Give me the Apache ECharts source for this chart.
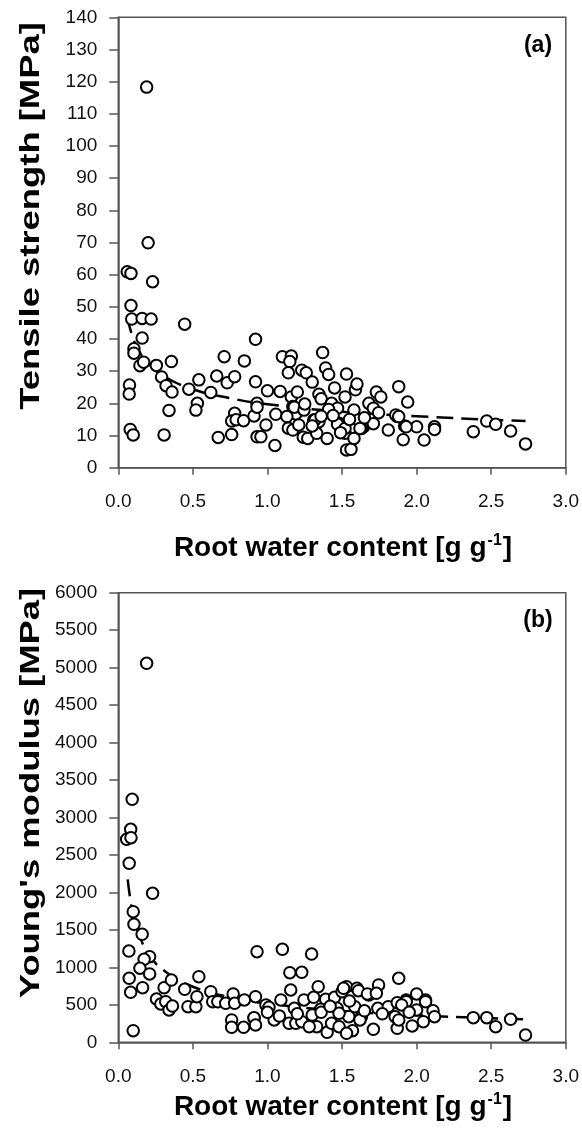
<!DOCTYPE html>
<html><head><meta charset="utf-8">
<script src="https://cdn.jsdelivr.net/npm/echarts@6/dist/echarts.min.js"></script>
<style>html,body{margin:0;padding:0;background:#fff}#c{width:582px;height:1129px}</style>
</head><body><div id="c"></div>
<script>
// Panel (a): tensile strength vs root water content
const waterA = [0.19,0.06,0.085,0.23,0.2,0.085,0.09,0.16,0.22,0.445,0.16,0.105,0.105,0.145,0.17,0.255,0.356,0.29,0.32,0.36,0.075,0.073,0.34,0.08,0.1,0.307,0.473,0.54,0.53,0.52,0.62,0.66,0.71,0.73,0.78,0.845,0.67,0.76,0.78,0.76,0.79,0.84,0.91,0.92,0.92,0.93,0.93,0.93,
1.10,1.16,1.15,1.37,1.23,1.26,1.14,1.39,1.41,1.53,1.30,1.0,1.085,1.16,1.056,1.17,1.19,1.13,0.99,1.14,1.17,1.21,1.05,1.24,1.27,1.31,1.345,1.33,1.40,1.345,1.36,1.45,1.43,1.47,1.52,1.48,1.52,1.53,1.56,0.956,1.18,1.245,1.32,1.41,1.47,1.52,1.58,1.61,1.645,1.68,1.71,1.745,1.71,1.81,1.87,1.92,1.91,2.0,2.05,1.49,1.59,1.60,1.73,1.76,1.88,1.94,1.86,1.88,1.93,2.12,2.12,2.38,2.47,2.53,2.63,2.73,1.63,1.58,1.62,1.30,1.25,1.36,1.44,1.55,1.65,1.2];
const tensile = [118.3,60.9,60.4,57.8,69.9,50.4,46.2,46.4,46.2,44.6,40.3,37.0,35.6,31.7,32.8,31.8,33.0,28.2,25.5,23.5,25.7,22.9,17.8,11.9,10.2,10.2,24.4,27.3,20.0,17.9,23.4,28.5,34.5,26.4,28.3,33.2,9.4,10.3,16.9,14.5,14.9,14.6,16.1,39.9,26.7,20.0,9.6,18.8,
34.5,34.7,33.0,35.8,30.3,29.5,29.5,31.0,29.0,29.1,26.6,23.9,23.7,22.0,16.6,19.0,16.7,15.9,13.3,12.3,11.7,13.3,6.9,9.5,9.1,14.8,14.3,10.7,9.1,22.8,21.4,24.8,20.0,18.5,22.0,13.8,10.7,5.5,5.7,9.6,18.8,17.9,14.9,18.1,13.5,12.2,17.9,14.8,12.7,20.0,18.5,17.1,13.7,11.7,15.9,13.0,8.7,12.7,8.6,10.9,24.2,26.0,23.5,22.0,25.2,20.4,16.4,15.9,12.7,12.7,11.9,11.2,14.5,13.5,11.4,7.4,12.2,9.1,12.2,13.0,19.8,16.0,16.2,15.0,15.5,23.5];
// dashed trend (a)
const trendAx = [0.06,0.1,0.15,0.2,0.3,0.5,0.75,1.0,1.5,2.0,2.5,2.73];
const trendAy = [47.0,40.1,35.4,32.4,28.6,24.4,21.6,19.75,17.4,16.0,14.9,14.5];

// Panel (b): Young's modulus vs root water content
const waterB = [0.19,0.093,0.083,0.056,0.085,0.073,0.23,0.1,0.105,0.16,0.071,0.21,0.173,0.145,0.21,0.073,0.083,0.163,0.1,0.256,0.285,0.318,0.34,0.363,0.307,0.356,0.445,0.467,0.52,0.54,0.527,0.62,0.633,0.667,0.72,0.77,0.78,0.845,0.76,0.76,0.84,0.91,0.92,0.93,1.1,1.296,1.15,1.23,1.88,0.99,1.01,1.09,1.156,1.18,1.245,1.31,1.34,1.39,1.45,1.50,1.53,1.6,1.61,1.68,1.745,1.356,1.467,1.585,1.74,1.81,1.93,2.0,2.06,0.91,0.92,1.045,1.145,1.19,1.23,1.33,1.40,1.28,1.43,1.48,1.57,1.71,1.545,1.63,1.856,1.97,2.045,1.87,1.51,1.67,1.73,1.93,2.06,1.87,1.9,2.0,2.11,2.12,1.88,2.38,2.47,2.53,2.63,2.73,1.62,1.48,1.30,1.53,1.36,1.42,1.2,1.55,1.65,1.77,1.95,1.0,1.08];
const modulus = [5058,3243,2843,2709,2730,2389,1988,1743,1575,1441,1218,1142,1108,988,912,854,667,729,155,578,511,542,431,484,729,831,707,475,475,876,609,675,542,542,520,645,520,565,298,200,200,320,609,1209,1241,1178,929,934,854,498,467,565,698,454,565,600,742,574,600,675,742,721,689,631,765,440,454,475,454,475,565,645,565,329,231,298,253,253,275,208,133,208,253,208,155,173,342,342,342,218,275,187,721,645,654,542,542,529,498,431,422,342,298,329,329,208,307,97,298,387,364,120,400,480,380,550,420,380,400,400,350];
const trendBx = [0.063,0.08,0.1,0.15,0.2,0.3,0.5,0.75,1.0,1.5,2.0,2.5,2.73];
const trendBy = [2173,1917,1708,1384,1192,966,741,600,517,419,361,321,307];

const FONT = 'Liberation Sans, Arial, sans-serif';
const pairs = (xs, ys) => xs.map((x, i) => [x, ys[i]]);

const axisCommonX = {
  type: 'value', min: 0, max: 3, interval: 0.5,
  axisLine: {show: true, lineStyle: {color: '#555', width: 1.5}},
  axisTick: {show: true, inside: false, length: 7, lineStyle: {color: '#555', width: 1.5}},
  splitLine: {show: false},
  axisLabel: {color: '#111', fontSize: 19, fontFamily: FONT, margin: 25,
    formatter: v => v.toFixed(1)}
};
const axisCommonY = (max, interval) => ({
  type: 'value', min: 0, max: max, interval: interval,
  axisLine: {show: true, lineStyle: {color: '#555', width: 1.5}},
  axisTick: {show: true, inside: false, length: 9, lineStyle: {color: '#555', width: 1.5}},
  splitLine: {show: false},
  axisLabel: {color: '#111', fontSize: 19, fontFamily: FONT, margin: 21,
    formatter: v => String(v)}
});

const scatterStyle = {symbol: 'circle', symbolSize: 11.5,
  itemStyle: {color: '#fff', borderColor: '#000', borderWidth: 2, opacity: 1}};
const lineStyle = {type: 'line', smooth: true, showSymbol: false, symbol: 'none',
  lineStyle: {color: '#000', width: 2.5, type: [17, 8]}, z: 1};

const titleRich = {
  b: {fontSize: 28, fontWeight: 'bold', fontFamily: FONT, color: '#000'},
  s: {fontSize: 16, fontWeight: 'bold', fontFamily: FONT, color: '#000', padding: [0, 1, 14, 1]}
};

const chart = echarts.init(document.getElementById('c'), null, {renderer: 'canvas'});
chart.setOption({
  animation: false,
  backgroundColor: '#fff',
  grid: [
    {left: 118.3, width: 449.2, top: 17.3, height: 450.4, show: true, borderColor: '#555', borderWidth: 1.5},
    {left: 118.3, width: 449.2, top: 592.7, height: 449.6, show: true, borderColor: '#555', borderWidth: 1.5}
  ],
  xAxis: [
    Object.assign({gridIndex: 0}, axisCommonX),
    Object.assign({gridIndex: 1}, axisCommonX)
  ],
  yAxis: [
    Object.assign({gridIndex: 0}, axisCommonY(140, 10)),
    Object.assign({gridIndex: 1}, axisCommonY(6000, 500))
  ],
  series: [
    Object.assign({xAxisIndex: 0, yAxisIndex: 0, data: pairs(trendAx, trendAy)}, lineStyle),
    Object.assign({type: 'scatter', xAxisIndex: 0, yAxisIndex: 0, data: pairs(waterA, tensile), z: 3}, scatterStyle),
    Object.assign({xAxisIndex: 1, yAxisIndex: 1, data: pairs(trendBx, trendBy)}, lineStyle),
    Object.assign({type: 'scatter', xAxisIndex: 1, yAxisIndex: 1, data: pairs(waterB, modulus), z: 3}, scatterStyle)
  ],
  graphic: [
    {type: 'text', x: 31, y: 216, rotation: Math.PI / 2, scaleX: 1.3,
      style: {text: 'Tensile strength [MPa]', font: 'bold 28px ' + FONT, fill: '#000', align: 'center', verticalAlign: 'middle'}},
    {type: 'text', x: 31, y: 793, rotation: Math.PI / 2, scaleX: 1.3,
      style: {text: "Young's modulus [MPa]", font: 'bold 28px ' + FONT, fill: '#000', align: 'center', verticalAlign: 'middle'}},
    {type: 'text', x: 343, y: 548,
      style: {text: '{b|Root water content [g g}{s|-1}{b|]}', rich: titleRich, align: 'center', verticalAlign: 'middle'}},
    {type: 'text', x: 343, y: 1107,
      style: {text: '{b|Root water content [g g}{s|-1}{b|]}', rich: titleRich, align: 'center', verticalAlign: 'middle'}},
    {type: 'text', x: 538, y: 46,
      style: {text: '(a)', font: 'bold 23px ' + FONT, fill: '#000', align: 'center', verticalAlign: 'middle'}},
    {type: 'text', x: 538, y: 621,
      style: {text: '(b)', font: 'bold 23px ' + FONT, fill: '#000', align: 'center', verticalAlign: 'middle'}}
  ]
});
</script></body></html>
